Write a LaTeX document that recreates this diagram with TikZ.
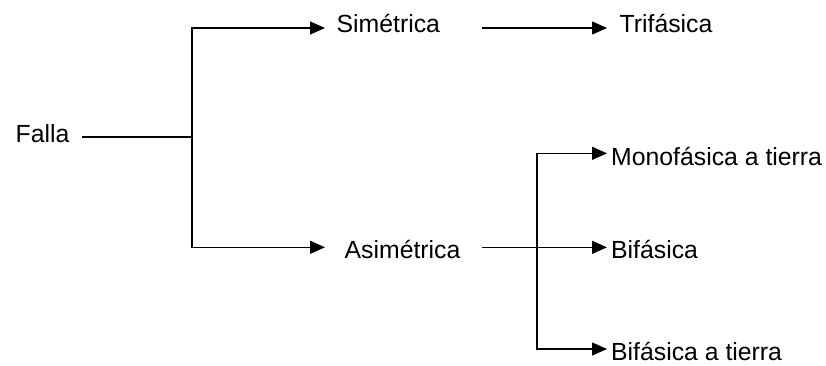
\documentclass[tikz,border=0pt]{standalone}
\usepackage{fontspec}
\setmainfont{Liberation Sans}
\usetikzlibrary{arrows.meta}
\begin{document}
\begin{tikzpicture}[x=1pt,y=-1pt,line width=1.3pt,
  lbl/.style={anchor=base west,inner sep=0pt,font=\fontsize{24.8}{30}\selectfont},
  arr/.style={-{Triangle[length=15pt,width=13pt]}}]
\useasboundingbox (0,0) rectangle (826,365);
% text nodes
\node[lbl] (falla) at (15,142) {Falla};
\node[lbl] (sim) at (336,32) {Simétrica};
\node[lbl] (asim) at (344,258) {Asimétrica};
\node[lbl] (tri) at (619,32) {Trifásica};
\node[lbl] (mono) at (610.5,165) {Monofásica a tierra};
\node[lbl] (bif) at (610.5,258) {Bifásica};
\node[lbl] (bift) at (610.5,360) {Bifásica a tierra};
% connector points
\coordinate (f0) at (82,137);
\coordinate (j1) at (192,137);
\coordinate (tS) at (325,28);
\coordinate (tA) at (325,247.3);
\coordinate (s0) at (482,28);
\coordinate (tT) at (607,28);
\coordinate (a0) at (482,247.3);
\coordinate (j2) at (537,247.3);
\coordinate (tM) at (607,153.3);
\coordinate (tB) at (607,247.3);
\coordinate (tBT) at (607,349);
% connectors
\draw (f0) -- (j1);
\draw[arr] (j1) |- (tS);
\draw[arr] (j1) |- (tA);
\draw[arr] (s0) -- (tT);
\draw[arr] (a0) -- (tB);
\draw[arr] (j2) |- (tM);
\draw[arr] (j2) |- (tBT);
\end{tikzpicture}
\end{document}
